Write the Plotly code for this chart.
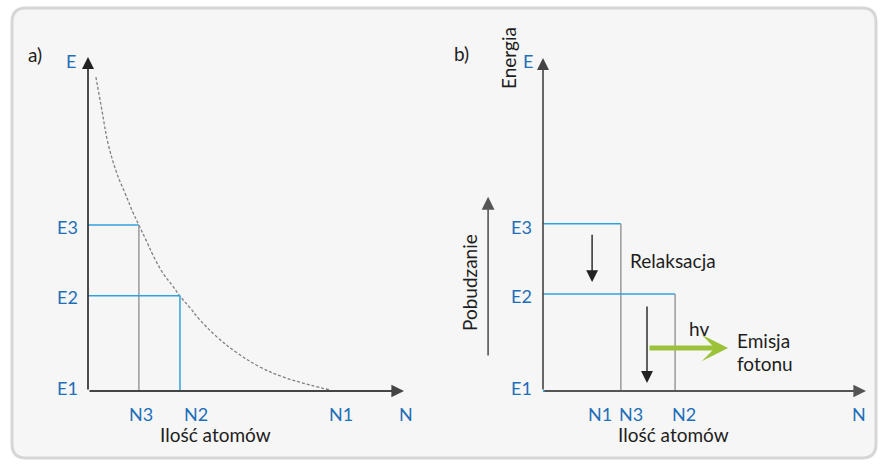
import plotly.graph_objects as go

W, H = 881, 464

# ---------------- data ----------------
# panel a) : Boltzmann distribution
levels = ["E1", "E2", "E3"]
energy_a = [0.0, 2.85, 4.97]          # E1, E2, E3
pop_a = [7.66, 2.91, 1.61]            # N1, N2, N3
curve_N = [0.25, 0.44, 0.63, 0.92, 1.17, 1.42, 1.61, 1.87, 2.06, 2.37, 2.66, 2.91,
           3.23, 3.54, 4.08, 4.72, 5.44, 6.17, 7.03, 7.66]
curve_E = [9.40, 8.41, 7.43, 6.50, 5.93, 5.35, 4.97, 4.45, 4.06, 3.53, 3.17, 2.84,
           2.49, 2.13, 1.62, 1.14, 0.72, 0.42, 0.18, 0.03]

# panel b) : population inversion
energy_b = [0.0, 2.91, 5.02]          # E1, E2, E3
pop_b = [1.86, 4.09, 2.41]            # N1, N2, N3
pop_labels = ["N1", "N2", "N3"]

BLUE_LINE = "#2fa3e0"
BLUE_TXT = "#1f6fb8"
GRAY = "#9a9a9a"
DARK = "#1e1e1e"
GREEN = "#9cc23a"
FONT = "Lato"

fig = go.Figure()

def fx(px):
    return px / W

def fy(py):
    return 1 - py / H

# panel a: x 0->88px, 10->404px ; y 0->391px, 10->57px
xa_s = (404 - 88) / 10.0
ya_s = (391 - 57) / 10.0
xa_range = [(0 - 88) / xa_s, (440 - 88) / xa_s]
ya_range = [(391 - H) / ya_s, (391 - 0) / ya_s]
# panel b: x 0->543px, 10->866px ; y 0->391px, 10->58px
xb_s = (866 - 543) / 10.0
yb_s = (391 - 58) / 10.0
xb_range = [(440 - 543) / xb_s, (W - 543) / xb_s]
yb_range = [(391 - H) / yb_s, (391 - 0) / yb_s]

# ---------- background rounded panel ----------
x0, y0, x1, y1, r = 12, 8, 876, 458, 14
path = (f"M {fx(x0+r)} {fy(y0)} L {fx(x1-r)} {fy(y0)} Q {fx(x1)} {fy(y0)} {fx(x1)} {fy(y0+r)} "
        f"L {fx(x1)} {fy(y1-r)} Q {fx(x1)} {fy(y1)} {fx(x1-r)} {fy(y1)} "
        f"L {fx(x0+r)} {fy(y1)} Q {fx(x0)} {fy(y1)} {fx(x0)} {fy(y1-r)} "
        f"L {fx(x0)} {fy(y0+r)} Q {fx(x0)} {fy(y0)} {fx(x0+r)} {fy(y0)} Z")
shapes = [dict(type="path", path=path, xref="paper", yref="paper",
               line=dict(color="#d6d6d6", width=3), fillcolor="#f6f6f6", layer="below")]

# ---------- panel a traces ----------
fig.add_trace(go.Scatter(x=curve_N, y=curve_E, mode="lines",
                         line=dict(color="#808080", width=1.3, dash="3px,2px", shape="spline", smoothing=1.1),
                         xaxis="x", yaxis="y", hoverinfo="skip"))
fig.add_trace(go.Scatter(x=[0, pop_a[2]], y=[energy_a[2], energy_a[2]], mode="lines", line=dict(color=BLUE_LINE, width=1.5), xaxis="x", yaxis="y"))
fig.add_trace(go.Scatter(x=[pop_a[2], pop_a[2]], y=[energy_a[2], energy_a[0]], mode="lines", line=dict(color=GRAY, width=1.5), xaxis="x", yaxis="y"))
fig.add_trace(go.Scatter(x=[0, pop_a[1]], y=[energy_a[1], energy_a[1]], mode="lines", line=dict(color=BLUE_LINE, width=1.5), xaxis="x", yaxis="y"))
fig.add_trace(go.Scatter(x=[pop_a[1], pop_a[1]], y=[energy_a[1], energy_a[0]], mode="lines", line=dict(color=BLUE_LINE, width=1.5), xaxis="x", yaxis="y"))

# ---------- panel b traces ----------
fig.add_trace(go.Scatter(x=[0, pop_b[2]], y=[energy_b[2], energy_b[2]], mode="lines", line=dict(color=BLUE_LINE, width=1.5), xaxis="x2", yaxis="y2"))
fig.add_trace(go.Scatter(x=[pop_b[2], pop_b[2]], y=[energy_b[2], energy_b[0]], mode="lines", line=dict(color=GRAY, width=1.5), xaxis="x2", yaxis="y2"))
fig.add_trace(go.Scatter(x=[0, pop_b[1]], y=[energy_b[1], energy_b[1]], mode="lines", line=dict(color=BLUE_LINE, width=1.5), xaxis="x2", yaxis="y2"))
fig.add_trace(go.Scatter(x=[pop_b[1], pop_b[1]], y=[energy_b[1], energy_b[0]], mode="lines", line=dict(color=GRAY, width=1.5), xaxis="x2", yaxis="y2"))
fig.add_trace(go.Scatter(x=[0, pop_b[0]], y=[energy_b[0], energy_b[0]], mode="lines", line=dict(color=BLUE_LINE, width=2), xaxis="x2", yaxis="y2"))

ann = []

def arrow(xr, yr, xh, yh, xt, yt, color=DARK, w=1.5, size=1.6, head=2):
    ann.append(dict(xref=xr, yref=yr, axref=xr, ayref=yr, x=xh, y=yh, ax=xt, ay=yt,
                    showarrow=True, arrowhead=head, arrowsize=size, arrowwidth=w,
                    arrowcolor=color, text="", standoff=0, startstandoff=0))

# axes arrows
arrow("x", "y", 0, 10, 0, 0, color="#222222", w=1.6, size=1.5)
arrow("x", "y", 10, 0, 0, 0, color="#444444", w=1.8, size=1.4)
arrow("x2", "y2", 0, 10, 0, 0, color="#444444", w=1.6, size=1.5)
arrow("x2", "y2", 10, 0, 0, 0, color="#555555", w=1.8, size=1.4)
# relaxation arrows
arrow("x2", "y2", 1.52, 3.27, 1.52, 4.74, color="#222222", w=1.4, size=1.7)
arrow("x2", "y2", 3.22, 0.24, 3.22, 2.58, color="#222222", w=1.4, size=1.7)
# Pobudzanie arrow
arrow("x2", "y2", -1.70, 5.83, -1.70, 1.02, color="#555555", w=1.6, size=1.6)
# photon arrow
arrow("x2", "y2", 5.73, 1.29, 3.25, 1.29, color=GREEN, w=5, size=0.88, head=3)

def text(t, px, py, color=DARK, size=19, xanchor="center", angle=0):
    ann.append(dict(xref="paper", yref="paper", x=fx(px), y=fy(py), text=t, showarrow=False,
                    font=dict(family=FONT, size=size, color=color), xanchor=xanchor, yanchor="middle",
                    textangle=angle))

BS = 18
# panel a labels
text("a)", 35, 54)
text("E", 71, 61, BLUE_TXT, BS)
text(levels[2], 80, 227, BLUE_TXT, BS, xanchor="right")
text(levels[1], 80, 297, BLUE_TXT, BS, xanchor="right")
text(levels[0], 80, 388, BLUE_TXT, BS, xanchor="right")
text("N3", 141, 414, BLUE_TXT, BS)
text("N2", 196, 414, BLUE_TXT, BS)
text("N1", 341, 414, BLUE_TXT, BS)
text("N", 406, 414, BLUE_TXT, BS)
text("Ilość atomów", 215, 434)

# panel b labels
text("b)", 461, 53)
text("Energia", 508, 58, angle=-90)
text("E", 528, 61, BLUE_TXT, BS)
text(levels[2], 534, 227, BLUE_TXT, BS, xanchor="right")
text(levels[1], 534, 296, BLUE_TXT, BS, xanchor="right")
text(levels[0], 534, 388, BLUE_TXT, BS, xanchor="right")
text(pop_labels[0], 600, 414, BLUE_TXT, BS)
text(pop_labels[2], 631, 414, BLUE_TXT, BS)
text(pop_labels[1], 684, 414, BLUE_TXT, BS)
text("N", 859, 414, BLUE_TXT, BS)
text("Ilość atomów", 673, 434)
text("Pobudzanie", 469, 283, angle=-90)
text("Relaksacja", 628, 260, xanchor="left")
text("hv", 687, 328, xanchor="left")
text("Emisja", 735, 340, xanchor="left")
text("fotonu", 735, 363, xanchor="left")

ax_common = dict(showgrid=False, zeroline=False, showticklabels=False, ticks="", showline=False, fixedrange=True)
fig.update_layout(
    width=W, height=H, margin=dict(l=0, r=0, t=0, b=0),
    paper_bgcolor="white", plot_bgcolor="rgba(0,0,0,0)", showlegend=False,
    xaxis=dict(domain=[0, 440 / W], range=xa_range, **ax_common),
    yaxis=dict(domain=[0, 1], range=ya_range, **ax_common),
    xaxis2=dict(domain=[440 / W, 1], range=xb_range, anchor="y2", **ax_common),
    yaxis2=dict(domain=[0, 1], range=yb_range, anchor="x2", **ax_common),
    shapes=shapes, annotations=ann,
)

fig.write_html("out.html", config={"displayModeBar": False},
               post_script="document.body.style.margin='0';document.body.style.overflow='hidden';")
